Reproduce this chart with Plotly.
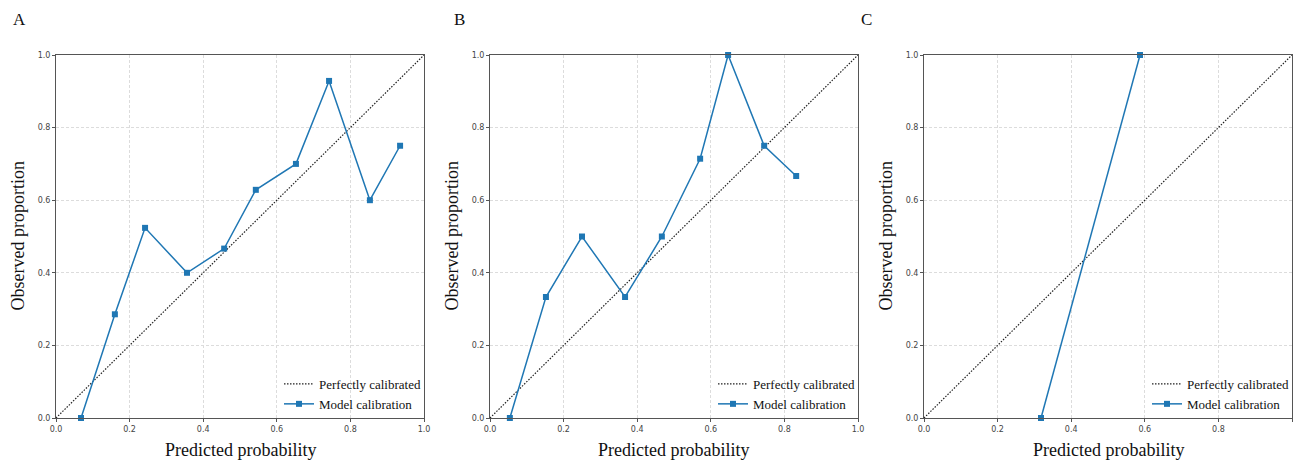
import plotly.graph_objects as go

# Data
panel_labels = ["A", "B", "C"]
pred_A = [0.068, 0.160, 0.242, 0.356, 0.457, 0.543, 0.652, 0.742, 0.853, 0.935]
obs_A = [0.0, 0.2857, 0.5238, 0.40, 0.4667, 0.6286, 0.70, 0.9286, 0.60, 0.75]
pred_B = [0.054, 0.152, 0.250, 0.367, 0.467, 0.571, 0.647, 0.745, 0.832]
obs_B = [0.0, 0.3333, 0.50, 0.3333, 0.50, 0.7143, 1.0, 0.75, 0.6667]
pred_C = [0.318, 0.587]
obs_C = [0.0, 1.0]
diag = [0.0, 1.0]
tick_vals = [0.0, 0.2, 0.4, 0.6, 0.8, 1.0]
series_names = ["Perfectly calibrated", "Model calibration"]
x_title = "Predicted probability"
y_title = "Observed proportion"

W, H = 1294, 460


def px_x(x):
    return x / W


def px_y(y):
    return 1 - y / H


x_px = [(56, 424), (490, 858), (924, 1292)]
y_top, y_bot = 55, 418
label_px = [(19, 20), (459, 20), (866, 20)]

preds = [pred_A, pred_B, pred_C]
obss = [obs_A, obs_B, obs_C]

fig = go.Figure()
layout = dict(
    width=W, height=H,
    margin=dict(l=0, r=0, t=0, b=0, autoexpand=False),
    paper_bgcolor="white", plot_bgcolor="white",
    showlegend=True,
    annotations=[],
)

serif = "Liberation Serif, Times New Roman, serif"
for i in range(3):
    sfx = "" if i == 0 else str(i + 1)
    xa = "x" + sfx
    ya = "y" + sfx
    lg = "legend" + sfx
    x0, x1 = x_px[i]
    fig.add_trace(go.Scatter(
        x=diag, y=diag, mode="lines", name=series_names[0],
        line=dict(color="#222222", width=1.2, dash="1.5px,1.5px"),
        xaxis=xa, yaxis=ya, legend=lg, cliponaxis=False,
    ))
    fig.add_trace(go.Scatter(
        x=preds[i], y=obss[i], mode="lines+markers", name=series_names[1],
        line=dict(color="#1f77b4", width=1.5),
        marker=dict(symbol="square", size=6, color="#1f77b4"),
        xaxis=xa, yaxis=ya, legend=lg, cliponaxis=False,
    ))
    axcommon = dict(
        range=[0, 1], tickvals=tick_vals, tickformat=".1f",
        showgrid=True, gridcolor="#dcdcdc", griddash="3px,2px", gridwidth=1,
        showline=True, linecolor="#555555", linewidth=1, mirror=True,
        ticks="outside", ticklen=3, tickcolor="#555555",
        tickfont=dict(family="DejaVu Sans, sans-serif", size=8, color="#444444"),
        zeroline=False, fixedrange=True, automargin=False,
    )
    layout["xaxis" + sfx] = dict(
        axcommon, domain=[px_x(x0), px_x(x1)], anchor=ya,
    )
    layout["yaxis" + sfx] = dict(
        axcommon, domain=[px_y(y_bot), px_y(y_top)], anchor=xa,
    )
    layout[lg] = dict(
        x=px_x(x1 + 2), y=px_y(419), xanchor="right", yanchor="bottom",
        xref="paper", yref="paper",
        bgcolor="rgba(255,255,255,0)", borderwidth=0,
        font=dict(family=serif, size=13, color="#111111"),
        tracegroupgap=0, itemwidth=30,
    )
    # panel label
    lx, ly = label_px[i]
    layout["annotations"].append(dict(
        text=panel_labels[i], x=px_x(lx), y=px_y(ly), xref="paper", yref="paper",
        showarrow=False, font=dict(family=serif, size=17, color="#111111"),
        xanchor="center", yanchor="middle",
    ))
    # x title
    layout["annotations"].append(dict(
        text=x_title, x=px_x((x0 + x1) / 2), y=px_y(450), xref="paper", yref="paper",
        showarrow=False, font=dict(family=serif, size=18, color="#111111"),
        xanchor="center", yanchor="middle",
    ))
    # y title
    layout["annotations"].append(dict(
        text=y_title, x=px_x(x0 - 39), y=px_y((y_top + y_bot) / 2),
        xref="paper", yref="paper", textangle=-90,
        showarrow=False, font=dict(family=serif, size=18, color="#111111"),
        xanchor="center", yanchor="middle",
    ))

fig.update_layout(**layout)
fig.write_html(
    "out.html",
    config={"displayModeBar": False},
    post_script="document.body.style.margin='0';document.body.style.overflow='hidden';",
)
